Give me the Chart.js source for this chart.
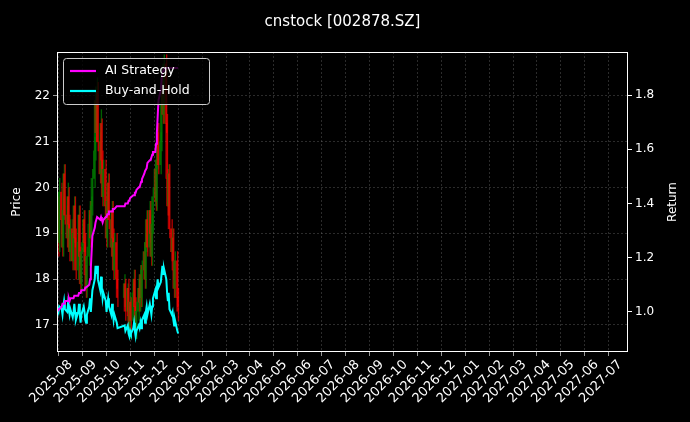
<!DOCTYPE html>
<html><head><meta charset="utf-8">
<script src="https://cdn.jsdelivr.net/npm/chart.js@4"></script>
<style>html,body{margin:0;padding:0;background:#000;}#w{width:690px;height:422px;}</style>
</head><body><div id="w"><canvas id="c"></canvas></div>
<script>
const opens=[19.3,19.0,19.6,18.8,19.9,19.3,18.7,19.5,20.3,19.4,18.9,19.8,19.2,
18.6,19.1,18.4,19.0,19.6,18.9,18.2,18.8,19.4,18.5,17.9,18.6,19.3,18.8,18.1,17.8,18.5,19.2,19.5,18.9,19.6,
20.2,20.8,21.9,21.2,22.1,21.0,20.3,21.4,20.6,19.8,20.4,19.6,18.9,19.7,20.1,19.3,18.7,19.5,18.9,18.2,18.8,18.0,
17.6,17.9,17.3,17.8,17.2,16.9,17.5,17.1,17.7,18.0,17.4,16.9,17.3,17.8,17.5,18.1,17.6,
18.2,18.6,18.0,18.8,19.3,18.7,19.5,19.0,18.5,19.2,19.8,20.4,19.7,20.6,21.2,20.5,21.0,21.8,22.4,21.6,
22.7,21.4,20.2,19.6,20.3,19.1,18.6,18.9,18.2,17.8,18.4,17.6];
const closes=[19.0,19.6,18.8,19.9,19.3,18.7,19.5,20.3,19.4,18.9,19.8,19.2,18.6,
19.1,18.4,19.0,19.6,18.9,18.2,18.8,19.4,18.5,17.9,18.6,19.3,18.8,18.1,17.8,18.5,19.2,19.5,18.9,19.6,20.2,
20.8,21.9,21.2,22.1,21.0,20.3,21.4,20.6,19.8,20.4,19.6,18.9,19.7,20.1,19.3,18.7,19.5,18.9,18.2,18.8,18.0,17.6,
17.9,17.3,17.8,17.2,16.9,17.5,17.1,17.7,18.0,17.4,16.9,17.3,17.8,17.5,18.1,17.6,18.2,
18.6,18.0,18.8,19.3,18.7,19.5,19.0,18.5,19.2,19.8,20.4,19.7,20.6,21.2,20.5,21.0,21.8,22.4,21.6,22.7,
21.4,20.2,19.6,20.3,19.1,18.6,18.9,18.2,17.8,18.4,17.6,17.3];
const highs=[19.6,19.9,19.8,20.2,20.1,19.5,19.8,20.5,20.5,19.6,20.1,20.0,19.4,
19.3,19.3,19.2,19.8,19.8,19.1,19.0,19.6,19.6,18.7,18.8,19.5,19.5,19.0,18.3,18.7,19.4,19.7,19.7,19.8,20.4,
21.1,22.2,22.1,22.4,22.3,21.2,21.7,21.5,20.8,20.6,20.6,19.8,19.9,20.3,20.3,19.5,19.7,19.7,19.1,19.0,19.0,18.2,
18.1,18.0,17.9,18.0,17.4,17.7,17.6,17.9,18.2,18.2,17.6,17.5,18.0,18.0,18.3,18.3,18.4,
18.8,18.8,19.0,19.5,19.5,19.7,19.7,19.2,19.4,20.0,20.6,20.6,20.8,21.4,21.4,21.2,22.0,22.6,22.6,22.9,
22.9,21.6,20.4,20.5,20.5,19.3,19.1,19.1,18.4,18.6,18.6,17.8];
const lows=[18.7,18.8,18.5,18.6,19.0,18.5,18.5,19.3,19.2,18.7,18.7,19.0,18.4,
18.4,18.2,18.2,18.8,18.7,18.0,18.0,18.6,18.3,17.7,17.7,18.4,18.6,17.9,17.6,17.6,18.3,19.0,18.7,18.7,19.4,
20.0,20.6,21.0,21.0,20.8,20.1,20.1,20.4,19.6,19.6,19.4,18.7,18.7,19.5,19.1,18.5,18.5,18.7,18.0,18.0,17.8,17.4,
17.4,17.1,17.1,17.0,16.7,16.7,16.9,16.9,17.5,17.2,16.7,16.7,17.1,17.3,17.3,17.4,17.4,
18.0,17.8,17.8,18.6,18.5,18.5,18.8,18.3,18.3,19.0,19.6,19.5,19.5,20.4,20.3,20.3,20.8,21.6,21.4,21.4,
21.2,20.0,19.4,19.4,18.9,18.4,18.4,18.0,17.6,17.6,17.4,17.1];
const aiReturn=[1.00,1.00,1.01,1.01,1.02,1.03,1.03,1.03,1.04,1.04,1.04,1.05,1.04,
1.05,1.05,1.05,1.06,1.06,1.06,1.06,1.07,1.07,1.07,1.08,1.08,1.08,1.09,1.09,1.09,1.10,1.12,1.16,1.22,1.28,
1.31,1.33,1.34,1.35,1.35,1.34,1.35,1.34,1.33,1.34,1.35,1.35,1.36,1.36,1.37,1.37,1.37,1.38,1.38,1.38,1.39,1.39,
1.39,1.40,1.40,1.41,1.41,1.42,1.42,1.43,1.43,1.44,1.44,1.45,1.46,1.46,1.47,1.48,1.49,
1.51,1.52,1.52,1.53,1.55,1.56,1.56,1.57,1.58,1.59,1.59,1.62,1.66,1.72,1.78,1.82,1.86,1.88,1.89,1.90,
1.90,1.90,1.90,1.90,1.90,1.90,1.90,1.90,1.90,1.90,1.90,1.90];
const bhReturn=[1.00,1.01,1.00,1.02,1.01,0.99,1.02,1.04,1.01,1.00,1.03,1.01,0.99,
1.01,0.98,1.00,1.03,1.00,0.97,1.00,1.03,0.99,0.96,0.99,1.02,1.00,0.97,0.96,0.99,1.02,1.05,1.00,1.04,1.08,
1.12,1.17,1.14,1.17,1.12,1.08,1.13,1.09,1.05,1.07,1.04,1.00,1.03,1.05,1.02,0.99,1.03,1.00,0.97,0.99,0.96,0.94,
0.95,0.93,0.95,0.92,0.91,0.93,0.92,0.94,0.96,0.93,0.91,0.93,0.95,0.94,0.96,0.94,0.97,
0.99,0.96,1.00,1.02,0.99,1.03,1.01,0.99,1.02,1.05,1.08,1.05,1.09,1.12,1.09,1.11,1.14,1.17,1.14,1.16,
1.12,1.07,1.04,1.07,1.01,0.99,1.00,0.97,0.95,0.97,0.93,0.92];
const priceTicks=[17,18,19,20,21,22];
const returnTicks=[1.0,1.2,1.4,1.6,1.8];
const monthLabels=['2025-08','2025-09','2025-10','2025-11','2025-12','2026-01','2026-02','2026-03','2026-04','2026-05','2026-06','2026-07','2026-08','2026-09','2026-10','2026-11','2026-12','2027-01','2027-02','2027-03','2027-04','2027-05','2027-06','2027-07'];

const DAY=86400000;
const dayOf=s=>Date.UTC(+s.slice(0,4),+s.slice(5,7)-1,s.length>7?+s.slice(8,10):1)/DAY;
const days=[];
for(let d=dayOf('2025-07-15');days.length<closes.length;d++){
  const dt=new Date(d*DAY);const wd=dt.getUTCDay();
  if(wd===0||wd===6)continue;
  if(dt.getUTCMonth()===9&&dt.getUTCDate()<=8)continue;
  days.push(d);
}
const monthDays=monthLabels.map(dayOf);
const up=i=>closes[i]>=opens[i];
const candleCol=days.map((d,i)=>up(i)?'rgba(0,128,0,0.75)':'rgba(255,0,0,0.7)');

const frame={id:'frame',afterDraw(ch){const a=ch.chartArea,c=ch.ctx;c.save();
  c.strokeStyle='#fff';c.lineWidth=1;c.strokeRect(a.left+0.5,a.top+0.5,a.right-a.left-1,a.bottom-a.top-1);
  c.fillStyle='#fff';c.font='15px "DejaVu Sans"';c.textAlign='center';c.textBaseline='middle';
  c.fillText('cnstock [002878.SZ]',(a.left+a.right)/2,22);
  c.font='12px "DejaVu Sans"';
  const my=(a.top+a.bottom)/2;
  c.save();c.translate(17,my);c.rotate(-Math.PI/2);c.fillText('Price',0,0);c.restore();
  c.save();c.translate(673,my);c.rotate(-Math.PI/2);c.fillText('Return',0,0);c.restore();
  const x=a.left+6,y=a.top+6,w=146,h=46;
  c.fillStyle='rgba(0,0,0,0.8)';c.strokeStyle='#ccc';c.lineWidth=1;c.beginPath();
  if(c.roundRect)c.roundRect(x+0.5,y+0.5,w,h,3);else c.rect(x+0.5,y+0.5,w,h);c.fill();c.stroke();
  const items=[['AI Strategy','#ff00ff'],['Buy-and-Hold','#00ffff']];
  c.font='12.5px "DejaVu Sans"';c.textAlign='left';
  items.forEach((it,k)=>{const yy=y+13+k*20;c.strokeStyle=it[1];c.lineWidth=2.2;c.beginPath();c.moveTo(x+7,yy);c.lineTo(x+33,yy);c.stroke();
    c.fillStyle='#fff';c.fillText(it[0],x+42,yy);});
  c.restore();}};

const gridOpt={color:'rgba(120,120,120,0.6)',lineWidth:0.6,tickColor:'#fff',tickLength:4,drawOnChartArea:true};
new Chart(document.getElementById('c'),{
  type:'bar',
  data:{datasets:[
    {type:'line',label:'AI Strategy',data:days.map((d,i)=>({x:d,y:aiReturn[i]})),yAxisID:'y1',borderColor:'#ff00ff',borderWidth:2,pointRadius:0,order:0},
    {type:'line',label:'Buy-and-Hold',data:days.map((d,i)=>({x:d,y:bhReturn[i]})),yAxisID:'y1',borderColor:'#00ffff',borderWidth:2,pointRadius:0,order:0},
    {label:'body',data:days.map((d,i)=>({x:d,y:[opens[i],closes[i]]})),yAxisID:'y',backgroundColor:candleCol,barThickness:1.4,order:2},
    {label:'wick',data:days.map((d,i)=>({x:d,y:[lows[i],highs[i]]})),yAxisID:'y',backgroundColor:candleCol,barThickness:0.7,order:3}
  ]},
  options:{responsive:true,maintainAspectRatio:false,animation:false,
    layout:{padding:{top:52,right:0,left:0,bottom:0}},
    plugins:{legend:{display:false},tooltip:{enabled:false}},
    scales:{
      x:{type:'linear',min:dayOf('2025-07-15'),max:dayOf('2027-07-11'),offset:false,
        afterBuildTicks(s){s.ticks=monthDays.map(v=>({value:v}));},
        afterFit(s){s.height=70;},
        ticks:{color:'#fff',font:{size:13,family:'DejaVu Sans'},maxRotation:45,minRotation:45,autoSkip:false,padding:1,
          callback(v){const i=monthDays.indexOf(v);return i>=0?monthLabels[i]:'';}},
        grid:gridOpt,border:{display:false,dash:[2,2]}},
      y:{position:'left',min:16.41,max:22.96,
        afterBuildTicks(s){s.ticks=priceTicks.map(v=>({value:v}));},
        afterFit(s){s.width=57;},
        ticks:{color:'#fff',font:{size:12,family:'DejaVu Sans'}},
        grid:gridOpt,border:{display:false,dash:[2,2]}},
      y1:{position:'right',min:0.852,max:1.959,
        afterBuildTicks(s){s.ticks=returnTicks.map(v=>({value:v}));},
        afterFit(s){s.width=62;},
        ticks:{color:'#fff',font:{size:12,family:'DejaVu Sans'},callback:v=>v.toFixed(1)},
        grid:{drawOnChartArea:false,tickColor:'#fff',tickLength:4},border:{display:false}}
    }},
  plugins:[frame]
});
</script></body></html>
